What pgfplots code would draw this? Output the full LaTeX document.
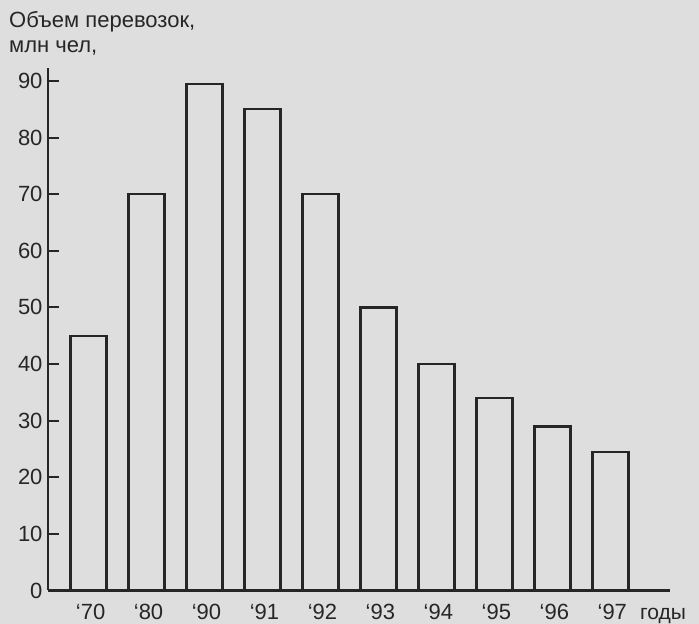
\documentclass[border=0pt]{standalone}
\usepackage{fontspec}
\setmainfont{Liberation Sans}
\usepackage{pgfplots}
\pgfplotsset{compat=1.18}
\definecolor{ink}{HTML}{262626}
\definecolor{paper}{HTML}{DEDEDE}

\begin{document}
\begin{tikzpicture}[x=1bp,y=1bp]
% page background, scanned paper tone
\path[use as bounding box, fill=paper] (0,0) rectangle (699,624);
\begin{axis}[
  at={(48bp,33.5bp)}, anchor=south west,
  scale only axis, width=622bp, height=522bp,
  xmin=-0.70, xmax=10.03, ymin=0, ymax=92.2,
  axis x line=bottom, axis y line=left,
  axis line style={-, line width=2.6bp, draw=ink},
  ybar, bar width=36bp,
  ytick={0,10,...,90},
  xtick={0,...,9},
  xticklabels={‘70,‘80,‘90,‘91,‘92,‘93,‘94,‘95,‘96,‘97},
  xtick style={draw=none},
  ytick style={line width=2bp, draw=ink},
  tick align=inside, major tick length=11bp,
  ticklabel style={font=\fontsize{22bp}{26bp}\selectfont, text=ink},
  xticklabel style={anchor=base, yshift=-29.5bp, xshift=2bp},
  yticklabel style={xshift=-2bp},
  /pgf/number format/assume math mode=true,
]
\addplot[draw=ink, fill=none, line width=2.4bp] coordinates {
  (0,45) (1,70) (2,89.5) (3,85) (4,70)
  (5,50) (6,40) (7,34) (8,29) (9,24.5)
};
\end{axis}
\node[anchor=base west, inner sep=0, text=ink, font=\fontsize{22bp}{26bp}\selectfont] at (9,596) {Объем перевозок,};
\node[anchor=base west, inner sep=0, text=ink, font=\fontsize{22bp}{26bp}\selectfont] at (9,571) {млн чел,};
\node[anchor=base west, inner sep=0, text=ink, font=\fontsize{21bp}{24bp}\selectfont] at (640,4) {годы};
\end{tikzpicture}
\end{document}
